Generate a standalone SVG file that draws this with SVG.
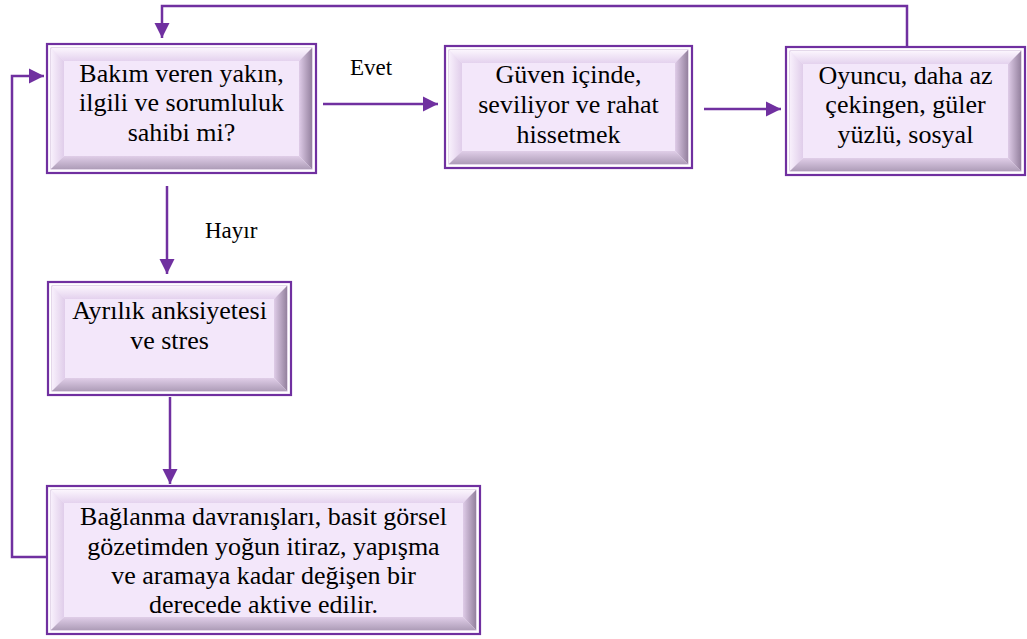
<svg xmlns="http://www.w3.org/2000/svg" width="1027" height="639" viewBox="0 0 1027 639">
<style>
.outer{fill:#ffffff;stroke:#7030A0;stroke-width:2.2}
.inner{fill:#F3E7FA;stroke:#C9B2D6;stroke-width:1}
.bt{fill:url(#gT)}
.bl{fill:url(#gL)}
.br{fill:url(#gR)}
.bb{fill:url(#gB)}
.t{font-family:'Liberation Serif','Times New Roman','DejaVu Serif',serif;font-size:26px;fill:#000;text-anchor:middle}
.lbl{font-family:'Liberation Serif','Times New Roman','DejaVu Serif',serif;font-size:23px;fill:#000}
.c{fill:none;stroke:#7030A0;stroke-width:2.5}
</style>
<defs>
<linearGradient id="gT" x1="0" y1="0" x2="0" y2="1"><stop offset="0" stop-color="#FBF5FD"/><stop offset="1" stop-color="#E4D2EE"/></linearGradient>
<linearGradient id="gL" x1="0" y1="0" x2="1" y2="0"><stop offset="0" stop-color="#F8F0FC"/><stop offset="1" stop-color="#E0CDEA"/></linearGradient>
<linearGradient id="gR" x1="0" y1="0" x2="1" y2="0"><stop offset="0" stop-color="#DFCCE8"/><stop offset="1" stop-color="#94819E"/></linearGradient>
<linearGradient id="gB" x1="0" y1="0" x2="0" y2="1"><stop offset="0" stop-color="#E0CEE8"/><stop offset="1" stop-color="#AE9DB8"/></linearGradient>
<marker id="ah" markerUnits="userSpaceOnUse" markerWidth="16" markerHeight="16" refX="15" refY="8" orient="auto"><path d="M0,0.5 L15,8 L0,15.5 z" fill="#7030A0"/></marker>
</defs>

<g id="connectors">
<path class="c" d="M323,104 H438" marker-end="url(#ah)"/>
<path class="c" d="M704,109 H781" marker-end="url(#ah)"/>
<path class="c" d="M907,47 V6 H162 V38" marker-end="url(#ah)"/>
<path class="c" d="M167,186 V274" marker-end="url(#ah)"/>
<path class="c" d="M170,397 V484" marker-end="url(#ah)"/>
<path class="c" d="M47,557 H12 V76 H44" marker-end="url(#ah)"/>
<text class="lbl" x="371" y="75" text-anchor="middle">Evet</text>
<text class="lbl" x="205" y="238">Hayır</text>
</g>

<g id="node1">
<rect class="outer" x="47" y="44" width="269" height="129"/>
<rect class="inner" x="51" y="48" width="261" height="121"/>
<polygon class="bt" points="51,48 312,48 299,61 64,61"/>
<polygon class="bl" points="51,48 64,61 64,156 51,169"/>
<polygon class="br" points="312,48 312,169 299,156 299,61"/>
<polygon class="bb" points="51,169 64,156 299,156 312,169"/>
<text class="t" x="181.5" y="82">Bakım veren yakın,</text>
<text class="t" x="181.5" y="111">ilgili ve sorumluluk</text>
<text class="t" x="181.5" y="141">sahibi mi?</text>
</g>

<g id="node2">
<rect class="outer" x="445" y="46" width="247" height="122"/>
<rect class="inner" x="449" y="50" width="239" height="114"/>
<polygon class="bt" points="449,50 688,50 675,63 462,63"/>
<polygon class="bl" points="449,50 462,63 462,151 449,164"/>
<polygon class="br" points="688,50 688,164 675,151 675,63"/>
<polygon class="bb" points="449,164 462,151 675,151 688,164"/>
<text class="t" x="568.5" y="83">Güven içinde,</text>
<text class="t" x="568.5" y="113">seviliyor ve rahat</text>
<text class="t" x="568.5" y="143">hissetmek</text>
</g>

<g id="node3">
<rect class="outer" x="786" y="47" width="239" height="128"/>
<rect class="inner" x="790" y="51" width="231" height="120"/>
<polygon class="bt" points="790,51 1021,51 1008,64 803,64"/>
<polygon class="bl" points="790,51 803,64 803,158 790,171"/>
<polygon class="br" points="1021,51 1021,171 1008,158 1008,64"/>
<polygon class="bb" points="790,171 803,158 1008,158 1021,171"/>
<text class="t" x="905.5" y="84">Oyuncu, daha az</text>
<text class="t" x="905.5" y="113">çekingen, güler</text>
<text class="t" x="905.5" y="143">yüzlü, sosyal</text>
</g>

<g id="node4">
<rect class="outer" x="48" y="282" width="243" height="113"/>
<rect class="inner" x="52" y="286" width="235" height="105"/>
<polygon class="bt" points="52,286 287,286 274,299 65,299"/>
<polygon class="bl" points="52,286 65,299 65,378 52,391"/>
<polygon class="br" points="287,286 287,391 274,378 274,299"/>
<polygon class="bb" points="52,391 65,378 274,378 287,391"/>
<text class="t" x="169.5" y="319">Ayrılık anksiyetesi</text>
<text class="t" x="169.5" y="349">ve stres</text>
</g>

<g id="node5">
<rect class="outer" x="47" y="486" width="433" height="148"/>
<rect class="inner" x="51" y="490" width="425" height="140"/>
<polygon class="bt" points="51,490 476,490 463,503 64,503"/>
<polygon class="bl" points="51,490 64,503 64,617 51,630"/>
<polygon class="br" points="476,490 476,630 463,617 463,503"/>
<polygon class="bb" points="51,630 64,617 463,617 476,630"/>
<text class="t" x="263.5" y="525">Bağlanma davranışları, basit görsel</text>
<text class="t" x="263.5" y="555">gözetimden yoğun itiraz, yapışma</text>
<text class="t" x="263.5" y="584">ve aramaya kadar değişen bir</text>
<text class="t" x="263.5" y="613">derecede aktive edilir.</text>
</g>
</svg>
